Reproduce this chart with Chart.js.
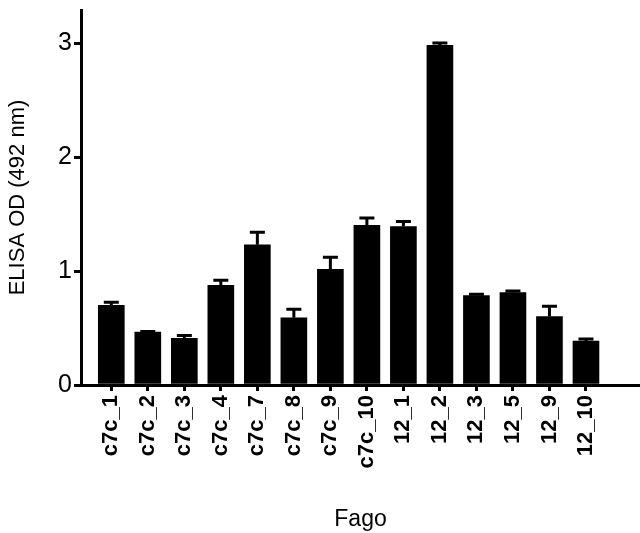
<!DOCTYPE html>
<html>
<head>
<meta charset="utf-8">
<script src="https://cdn.jsdelivr.net/npm/chart.js@4"></script>
<style>
  html, body { margin: 0; padding: 0; background: #fff; }
  #wrap { width: 640px; height: 533px; }
</style>
</head>
<body>
<div id="wrap"><canvas id="myChart" width="640" height="533"></canvas></div>
<script>
const categories = ['c7c_1', 'c7c_2', 'c7c_3', 'c7c_4', 'c7c_7', 'c7c_8', 'c7c_9', 'c7c_10',
                    '12_1', '12_2', '12_3', '12_5', '12_9', '12_10'];
const means = [0.70, 0.465, 0.41, 0.875, 1.23, 0.59, 1.015, 1.40, 1.39, 2.98, 0.785, 0.81, 0.60, 0.385];
const sems  = [0.025, 0.005, 0.025, 0.045, 0.11, 0.075, 0.105, 0.065, 0.045, 0.02, 0.012, 0.015, 0.09, 0.018];
const yTicks = [0, 1, 2, 3];

const FONT = "'Liberation Sans', Arial, sans-serif";

// error bars (upper half only), drawn through the chart scales
const errorBars = {
  id: 'errorBars',
  afterDatasetsDraw(chart) {
    const ctx = chart.ctx;
    const xs = chart.scales.x, ys = chart.scales.y;
    ctx.save();
    ctx.strokeStyle = '#000';
    ctx.lineWidth = 3;
    means.forEach((m, i) => {
      const x = xs.getPixelForValue(i);
      const y0 = ys.getPixelForValue(m);
      const y1 = ys.getPixelForValue(m + sems[i]);
      ctx.beginPath();
      ctx.moveTo(x, y0);
      ctx.lineTo(x, y1);
      ctx.moveTo(x - 7.5, y1);
      ctx.lineTo(x + 7.5, y1);
      ctx.stroke();
    });
    ctx.restore();
  }
};

var ctx = document.getElementById('myChart').getContext('2d');
var myChart = new Chart(ctx, {
  type: 'bar',
  data: {
    datasets: [{
      data: means.map((v, i) => ({ x: i, y: v })),
      backgroundColor: '#000',
      borderWidth: 0,
      barThickness: 26
    }]
  },
  options: {
    responsive: false,
    animation: false,
    layout: { padding: { top: 10, right: 0, left: 0, bottom: 0 } },
    plugins: { legend: { display: false }, tooltip: { enabled: false } },
    scales: {
      x: {
        type: 'linear',
        offset: false,
        min: -0.83,
        max: 14.48,
        grid: { offset: false, drawOnChartArea: false, drawTicks: true, tickLength: 6, lineWidth: 3, color: '#000' },
        border: { display: true, width: 3, color: '#000' },
        ticks: {
          stepSize: 1,
          includeBounds: false,
          autoSkip: false,
          minRotation: 90,
          maxRotation: 90,
          padding: 4,
          color: '#000',
          font: { family: FONT, size: 22, weight: 'bold' },
          callback: v => categories[v] ?? ''
        },
        title: {
          display: true,
          text: 'Fago',
          color: '#000',
          font: { family: FONT, size: 23 },
          padding: { top: 4, bottom: 0 }
        },
        afterBuildTicks: s => { s.ticks = s.ticks.filter(t => t.value >= 0 && t.value < categories.length); },
        afterFit: s => { s.height = 148; s.paddingLeft = 0; s.paddingRight = 0; }
      },
      y: {
        min: 0,
        max: 3.29,
        grid: { drawOnChartArea: false, drawTicks: true, tickLength: 7, lineWidth: 3, color: '#000' },
        border: { display: true, width: 3, color: '#000' },
        ticks: {
          stepSize: 1,
          includeBounds: false,
          padding: 2,
          color: '#000',
          font: { family: FONT, size: 25 }
        },
        afterBuildTicks: s => { s.ticks = yTicks.map(v => ({ value: v })); },
        title: {
          display: true,
          text: 'ELISA OD (492 nm)',
          color: '#000',
          font: { family: FONT, size: 22 },
          padding: { top: 5, bottom: 4 }
        },
        afterFit: s => { s.width = 81; s.paddingTop = 0; s.paddingBottom = 0; }
      }
    }
  },
  plugins: [errorBars]
});
</script>
</body>
</html>
